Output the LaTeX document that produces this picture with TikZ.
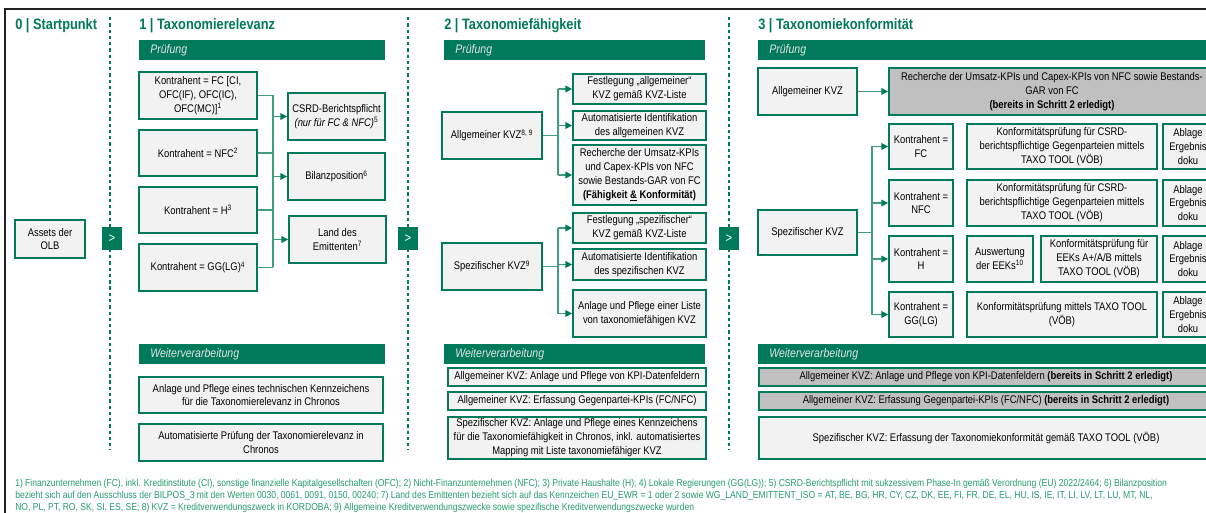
\documentclass[tikz,border=0pt]{standalone}
\usepackage{fontspec}
\setmainfont[FakeStretch=0.85]{Liberation Sans}
\usepackage{xcolor}
\usepackage{tikz}
\usetikzlibrary{arrows.meta}

\definecolor{dkgreen}{RGB}{0,122,90}
\definecolor{lngreen}{RGB}{64,158,122}
\definecolor{fngreen}{RGB}{38,158,108}
\definecolor{boxfill}{RGB}{242,242,242}
\definecolor{grayfill}{RGB}{192,192,192}
\definecolor{hdrtext}{RGB}{228,228,228}
\definecolor{frm}{RGB}{35,35,35}

\newcommand\bxfont{\fontsize{8.3}{10.4}\selectfont}

\tikzset{
  kbox/.style 2 args={draw=dkgreen, line width=1.3pt, fill=boxfill,
    minimum width=#1*0.75pt, minimum height=#2*0.75pt,
    inner sep=1pt, align=center, font=\bxfont},
  gbox/.style 2 args={kbox={#1}{#2}, fill=grayfill},
  go/.style={fill=dkgreen, text=white, minimum width=15pt, minimum height=17pt,
    inner sep=0pt, font=\fontsize{10}{12}\selectfont},
  ttl/.style={anchor=west, inner sep=0pt, text=dkgreen,
    font=\bfseries\fontsize{11.3}{13}\selectfont},
  hdr/.style={fill=dkgreen},
  hdrlbl/.style={anchor=west, inner sep=0pt, text=hdrtext,
    font=\itshape\fontsize{9.3}{11}\selectfont},
  dashsep/.style={draw=dkgreen, line width=0.8pt, dash pattern=on 2.5pt off 2.2pt},
  conn/.style={draw=lngreen, line width=0.8pt},
  arr/.style={conn, -{Triangle[length=5pt,width=5pt,color=dkgreen]}}
}

\begin{document}
\begin{tikzpicture}[x=0.75pt, y=-0.75pt]
\useasboundingbox (0,0) rectangle (1206,513);
\clip (0,0) rectangle (1206,513);
\fill[white] (0,0) rectangle (1206,513);

\draw[frm, line width=1.6pt] (5,530) -- (5,9) -- (1230,9);

\draw[dashsep] (110,17) -- (110,450);
\draw[dashsep] (408,17) -- (408,450);
\draw[dashsep] (729,17) -- (729,450);

\node[ttl] (t0) at (15,26) {0 | Startpunkt};
\node[ttl] (t1) at (139,26) {1 | Taxonomierelevanz};
\node[ttl] (t2) at (444,26) {2 | Taxonomiefähigkeit};
\node[ttl] (t3) at (758,26) {3 | Taxonomiekonformität};

\fill[hdr] (139,40) rectangle (385,60);
\fill[hdr] (444,40) rectangle (705,60);
\fill[hdr] (758,40) rectangle (1230,60);
\node[hdrlbl] (p1) at (150,50) {Prüfung};
\node[hdrlbl] (p2) at (455,50) {Prüfung};
\node[hdrlbl] (p3) at (769,50) {Prüfung};

\fill[hdr] (139,344) rectangle (385,364);
\fill[hdr] (444,344) rectangle (705,364);
\fill[hdr] (758,344) rectangle (1230,364);
\node[hdrlbl] (w1) at (150,354) {Weiterverarbeitung};
\node[hdrlbl] (w2) at (455,354) {Weiterverarbeitung};
\node[hdrlbl] (w3) at (769,354) {Weiterverarbeitung};

\node[kbox={70}{38}] (assets) at (50,239) {Assets der\\OLB};
\node[go] (go1) at (112,238.5) {>};
\node[go] (go2) at (408,238.5) {>};
\node[go] (go3) at (729,238.5) {>};

\node[kbox={118}{47}] (fc) at (198,95.5) {Kontrahent = FC [CI,\\OFC(IF), OFC(IC),\\OFC(MC)]\textsuperscript{1}};
\node[kbox={118}{46}] (nfc) at (198,153) {Kontrahent = NFC\textsuperscript{2}};
\node[kbox={118}{46}] (hh) at (198,210) {Kontrahent = H\textsuperscript{3}};
\node[kbox={118}{47}] (gg) at (198,267.5) {Kontrahent = GG(LG)\textsuperscript{4}};
\node[kbox={97}{47}] (csrd) at (336.5,116.5) {CSRD-Berichtspflicht\\\textit{(nur für FC \& NFC)}\textsuperscript{5}};
\node[kbox={97}{47}] (bilanz) at (336.5,176.5) {Bilanzposition\textsuperscript{6}};
\node[kbox={97}{47}] (land) at (337.5,239.5) {Land des\\Emittenten\textsuperscript{7}};

\coordinate (bus1) at (273,0);
\draw[conn] (fc.east) -- (fc.east -| bus1);
\draw[conn] (nfc.east) -- (nfc.east -| bus1);
\draw[conn] (hh.east) -- (hh.east -| bus1);
\draw[conn] (gg.east) -- (gg.east -| bus1);
\draw[conn] (fc.east -| bus1) -- (gg.east -| bus1);
\draw[arr] (csrd.west -| bus1) -- (csrd.west);
\draw[arr] (bilanz.west -| bus1) -- (bilanz.west);
\draw[arr] (land.west -| bus1) -- (land.west);

\node[kbox={244}{36}] (wv1a) at (261,395) {Anlage und Pflege eines technischen Kennzeichens\\für die Taxonomierelevanz in Chronos};
\node[kbox={244}{37}] (wv1b) at (261,442.5) {Automatisierte Prüfung der Taxonomierelevanz in\\Chronos};

\node[kbox={100}{47}] (allg) at (492,135.5) {Allgemeiner KVZ\textsuperscript{8, 9}};
\node[kbox={133}{30}] (festa) at (639.5,89) {Festlegung „allgemeiner“\\KVZ gemäß KVZ-Liste};
\node[kbox={133}{29}] (autoa) at (639.5,125.5) {Automatisierte Identifikation\\des allgemeinen KVZ};
\node[kbox={133}{60}] (rech) at (639.5,175) {Recherche der Umsatz-KPIs\\und Capex-KPIs von NFC\\sowie Bestands-GAR von FC\\\textbf{(Fähigkeit \underline{\&} Konformität)}};
\node[kbox={100}{47}] (spez) at (492,266.5) {Spezifischer KVZ\textsuperscript{9}};
\node[kbox={133}{30}] (fests) at (639.5,228) {Festlegung „spezifischer“\\KVZ gemäß KVZ-Liste};
\node[kbox={133}{31}] (autos) at (639.5,264.5) {Automatisierte Identifikation\\des spezifischen KVZ};
\node[kbox={133}{47}] (liste) at (639.5,313.5) {Anlage und Pflege einer Liste\\von taxonomiefähigen KVZ};

\coordinate (bus2) at (558,0);
\draw[conn] (allg.east) -- (allg.east -| bus2);
\draw[conn] (festa.west -| bus2) -- (rech.west -| bus2);
\draw[arr] (festa.west -| bus2) -- (festa.west);
\draw[arr] (autoa.west -| bus2) -- (autoa.west);
\draw[arr] (rech.west -| bus2) -- (rech.west);
\draw[conn] (spez.east) -- (spez.east -| bus2);
\draw[conn] (fests.west -| bus2) -- (liste.west -| bus2);
\draw[arr] (fests.west -| bus2) -- (fests.west);
\draw[arr] (autos.west -| bus2) -- (autos.west);
\draw[arr] (liste.west -| bus2) -- (liste.west);

\node[kbox={258}{18}] (wv2a) at (577,377) {Allgemeiner KVZ: Anlage und Pflege von KPI-Datenfeldern};
\node[kbox={258}{18}] (wv2b) at (577,401) {Allgemeiner KVZ: Erfassung Gegenpartei-KPIs (FC/NFC)};
\node[kbox={258}{42}] (wv2c) at (577,438) {Spezifischer KVZ: Anlage und Pflege eines Kennzeichens\\für die Taxonomiefähigkeit in Chronos, inkl. automatisiertes\\Mapping mit Liste taxonomiefähiger KVZ};

\node[kbox={99}{47}] (allg3) at (807.5,91.5) {Allgemeiner KVZ};
\node[gbox={326}{47}] (rech3) at (1052,91.5) {Recherche der Umsatz-KPIs und Capex-KPIs von NFC sowie Bestands-\\GAR von FC\\\textbf{(bereits in Schritt 2 erledigt)}};
\draw[arr] (allg3.east) -- (rech3.west);

\node[kbox={99}{45}] (spez3) at (807.5,232.5) {Spezifischer KVZ};
\node[kbox={64}{45}] (kfc) at (921,146.5) {Kontrahent =\\FC};
\node[kbox={64}{46}] (knfc) at (921,203) {Kontrahent =\\NFC};
\node[kbox={64}{46}] (kh) at (921,259) {Kontrahent =\\H};
\node[kbox={64}{45}] (kgg) at (921,314.5) {Kontrahent =\\GG(LG)};

\coordinate (bus3) at (872,0);
\draw[conn] (spez3.east) -- (spez3.east -| bus3);
\draw[conn] (kfc.west -| bus3) -- (kgg.west -| bus3);
\draw[arr] (kfc.west -| bus3) -- (kfc.west);
\draw[arr] (knfc.west -| bus3) -- (knfc.west);
\draw[arr] (kh.west -| bus3) -- (kh.west);
\draw[arr] (kgg.west -| bus3) -- (kgg.west);

\node[kbox={190}{45}] (cfc) at (1062,146.5) {Konformitätsprüfung für CSRD-\\berichtspflichtige Gegenparteien mittels\\TAXO TOOL (VÖB)};
\node[kbox={190}{46}] (cnfc) at (1062,203) {Konformitätsprüfung für CSRD-\\berichtspflichtige Gegenparteien mittels\\TAXO TOOL (VÖB)};
\node[kbox={66}{46}] (eek) at (1000,259) {Auswertung\\der EEKs\textsuperscript{10}};
\node[kbox={116}{46}] (ch) at (1099,259) {Konformitätsprüfung für\\EEKs A+/A/B mittels\\TAXO TOOL (VÖB)};
\node[kbox={190}{45}] (cgg) at (1062,314.5) {Konformitätsprüfung mittels TAXO TOOL\\(VÖB)};

\node[kbox={50}{45}] (abl1) at (1188,146.5) {Ablage\\Ergebnis\\doku};
\node[kbox={50}{46}] (abl2) at (1188,203) {Ablage\\Ergebnis\\doku};
\node[kbox={50}{46}] (abl3) at (1188,259) {Ablage\\Ergebnis\\doku};
\node[kbox={50}{45}] (abl4) at (1188,314.5) {Ablage\\Ergebnis\\doku};

\node[gbox={454}{18}] (wv3a) at (986,377) {Allgemeiner KVZ: Anlage und Pflege von KPI-Datenfeldern \textbf{(bereits in Schritt 2 erledigt)}};
\node[gbox={454}{18}] (wv3b) at (986,401) {Allgemeiner KVZ: Erfassung Gegenpartei-KPIs (FC/NFC) \textbf{(bereits in Schritt 2 erledigt)}};
\node[kbox={454}{42}] (wv3c) at (986,438) {Spezifischer KVZ: Erfassung der Taxonomiekonformität gemäß TAXO TOOL (VÖB)};

\node[anchor=north west, inner sep=0pt, align=left, text=fngreen,
  font=\fontsize{7.55}{9}\selectfont] (fn) at (15,478.5)
  {1) Finanzunternehmen (FC), inkl. Kreditinstitute (CI), sonstige finanzielle Kapitalgesellschaften (OFC); 2) Nicht-Finanzunternehmen (NFC); 3) Private Haushalte (H); 4) Lokale Regierungen (GG(LG)); 5) CSRD-Berichtspflicht mit sukzessivem Phase-In gemäß Verordnung (EU) 2022/2464; 6) Bilanzposition\\
  bezieht sich auf den Ausschluss der BILPOS\_3 mit den Werten 0030, 0061, 0091, 0150, 00240; 7) Land des Emittenten bezieht sich auf das Kennzeichen EU\_EWR = 1 oder 2 sowie WG\_LAND\_EMITTENT\_ISO = AT, BE, BG, HR, CY, CZ, DK, EE, FI, FR, DE, EL, HU, IS, IE, IT, LI, LV, LT, LU, MT, NL,\\
  NO, PL, PT, RO, SK, SI, ES, SE; 8) KVZ = Kreditverwendungszweck in KORDOBA; 9) Allgemeine Kreditverwendungszwecke sowie spezifische Kreditverwendungszwecke wurden};

\end{tikzpicture}
\end{document}
